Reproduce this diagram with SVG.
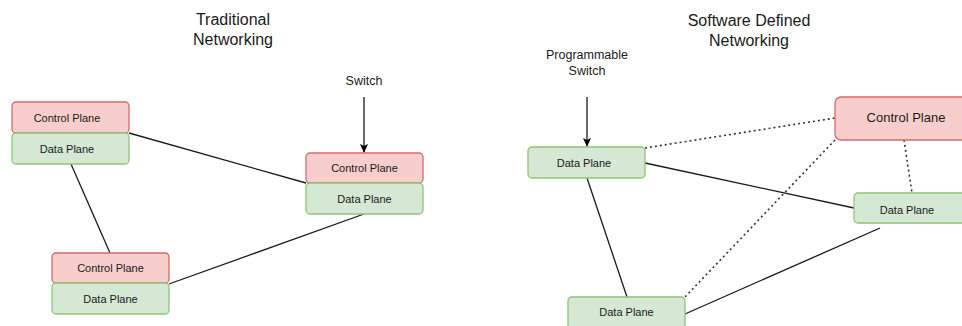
<svg xmlns="http://www.w3.org/2000/svg" width="962" height="326" viewBox="0 0 962 326">
<defs>
<style>
.cp{fill:#f8cecc;stroke:#d7696a;stroke-width:1.3}
.dp{fill:#d5e8d4;stroke:#8fc476;stroke-width:1.3}
.t{font-family:"Liberation Sans",Arial,sans-serif;font-size:11px;fill:#1a1a1a;text-anchor:middle;dominant-baseline:central}
.big{font-size:13px}
.title{font-family:"Liberation Sans",Arial,sans-serif;font-size:16px;fill:#1a1a1a;text-anchor:middle}
.lbl{font-family:"Liberation Sans",Arial,sans-serif;font-size:12.5px;fill:#1a1a1a;text-anchor:middle}
.ln{stroke:#1a1a1a;stroke-width:1.3;fill:none}
.dot{stroke:#333;stroke-width:1.6;fill:none;stroke-dasharray:2 3}
</style>
<marker id="arr" markerWidth="10" markerHeight="10" refX="8" refY="5" orient="auto" markerUnits="userSpaceOnUse">
<path d="M0,1 L9,5 L0,9 L2,5 Z" fill="#000"/>
</marker>
</defs>
<rect width="962" height="326" fill="#fff"/>
<text class="title" x="233" y="25">Traditional</text>
<text class="title" x="233" y="45">Networking</text>
<text class="title" x="749" y="26">Software Defined</text>
<text class="title" x="749" y="46">Networking</text>
<text class="lbl" x="364" y="85">Switch</text>
<text class="lbl" x="587" y="59">Programmable</text>
<text class="lbl" x="587" y="75">Switch</text>
<g id="connectors">
<line class="ln" x1="129" y1="133" x2="306" y2="183"/>
<line class="ln" x1="71" y1="164" x2="110" y2="253"/>
<line class="ln" x1="169" y1="284" x2="364" y2="214"/>
<line class="ln" x1="364" y1="97" x2="364" y2="152" marker-end="url(#arr)"/>
<line class="ln" x1="587" y1="97" x2="587" y2="146" marker-end="url(#arr)"/>
<line class="dot" x1="645" y1="148" x2="835" y2="118"/>
<line class="dot" x1="835" y1="140" x2="685" y2="297"/>
<line class="dot" x1="904" y1="140" x2="912" y2="193"/>
<line class="ln" x1="645" y1="163" x2="854" y2="208"/>
<line class="ln" x1="587" y1="178" x2="627" y2="297"/>
<line class="ln" x1="685" y1="314" x2="880" y2="228"/>
</g>
<g id="n1cp"><rect class="cp" x="12" y="102" width="117" height="31" rx="4"/><text class="t" x="67" y="117.5">Control Plane</text></g>
<g id="n1dp"><rect class="dp" x="12" y="133" width="117" height="31" rx="4"/><text class="t" x="67" y="148.5">Data Plane</text></g>
<g id="n2cp"><rect class="cp" x="306" y="153" width="117" height="30" rx="4"/><text class="t" x="364.5" y="168">Control Plane</text></g>
<g id="n2dp"><rect class="dp" x="306" y="183" width="117" height="31" rx="4"/><text class="t" x="364.5" y="198.5">Data Plane</text></g>
<g id="n3cp"><rect class="cp" x="52" y="253" width="117" height="30" rx="4"/><text class="t" x="110.5" y="268">Control Plane</text></g>
<g id="n3dp"><rect class="dp" x="52" y="283" width="117" height="31" rx="4"/><text class="t" x="110.5" y="298.5">Data Plane</text></g>
<g id="sdp1"><rect class="dp" x="528" y="147" width="117" height="31" rx="4"/><text class="t" x="584" y="162.5">Data Plane</text></g>
<g id="scp"><rect class="cp" x="835" y="97" width="145" height="43" rx="6"/><text class="t big" x="906" y="117.5">Control Plane</text></g>
<g id="sdp2"><rect class="dp" x="854" y="193" width="117" height="30" rx="4"/><text class="t" x="907" y="210">Data Plane</text></g>
<g id="sdp3"><rect class="dp" x="568" y="297" width="117" height="32" rx="4"/><text class="t" x="626.5" y="312">Data Plane</text></g>
</svg>
